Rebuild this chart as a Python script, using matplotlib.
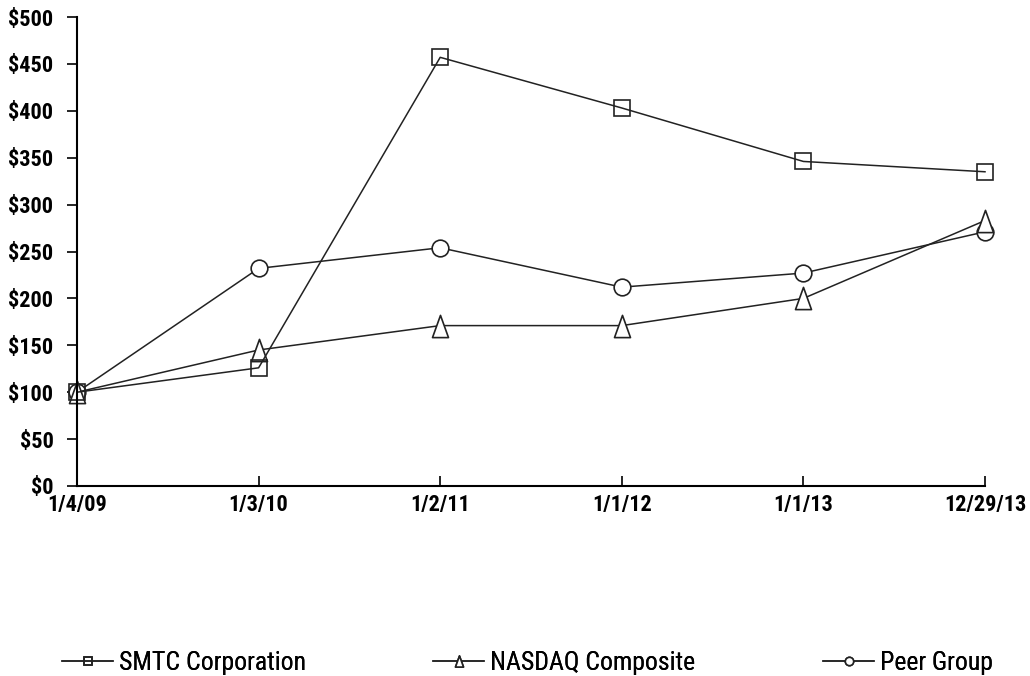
import matplotlib
matplotlib.use("Agg")
import matplotlib.pyplot as plt
from matplotlib import font_manager
from matplotlib.path import Path

dates = ["1/4/09", "1/3/10", "1/2/11", "1/1/12", "1/1/13", "12/29/13"]
smtc = [100, 126, 457, 403, 346, 335]
nasdaq = [100, 145, 171, 171, 200, 283]
peer = [100, 232, 254, 212, 227, 271]
yticks = list(range(0, 501, 50))
series_names = ["SMTC Corporation", "NASDAQ Composite", "Peer Group"]

names = {f.name for f in font_manager.fontManager.ttflist}
fam = "Liberation Sans"
for cand in ["Liberation Sans Narrow", "Roboto Condensed", "PT Sans Narrow",
             "Asap Condensed", "Barlow Semi Condensed", "Archivo Narrow"]:
    if cand in names:
        fam = cand
        break
plt.rcParams["font.family"] = [fam, "DejaVu Sans"]

fig = plt.figure(figsize=(10.3, 6.76), dpi=100)
ax = fig.add_axes([77/1030, 1-486/676, (985-77)/1030, (486-17)/676])

tri = Path([(-0.36, -0.5), (0.36, -0.5), (0.0, 0.5), (-0.36, -0.5)],
           [Path.MOVETO, Path.LINETO, Path.LINETO, Path.CLOSEPOLY])

x = list(range(len(dates)))
kw = dict(color="#222222", lw=1.1, mfc="white", mec="#222222", mew=1.2, clip_on=False)
l3, = ax.plot(x, peer, marker="o", ms=12, **kw)
l2, = ax.plot(x, nasdaq, marker=tri, ms=16, **kw)
l1, = ax.plot(x, smtc, marker="s", ms=12, **{**kw, "mfc": "none"})

ax.set_xlim(0, len(dates)-1)
ax.set_ylim(0, 500)
ax.set_yticks(yticks)
ax.set_yticklabels([f"${v}" for v in yticks], fontsize=16, fontweight="bold")
ax.set_xticks(x)
ax.set_xticklabels(dates, fontsize=16, fontweight="bold")
ax.tick_params(axis="y", direction="out", length=7, width=1.2, pad=10)
ax.tick_params(axis="x", direction="in", length=7, width=1.2, pad=6)
for s in ["top", "right"]:
    ax.spines[s].set_visible(False)
for s in ["left", "bottom"]:
    ax.spines[s].set_linewidth(1.5)

leg_x = [62, 433, 823]
for h, name, lx in zip([l1, l2, l3], series_names, leg_x):
    lg = fig.legend([h], [name], loc="center left",
                    bbox_to_anchor=(lx/1030, 1-663/676), frameon=False,
                    fontsize=18.5, markerscale=0.5, handlelength=2.0,
                    handletextpad=0.2, borderpad=0, borderaxespad=0)
    fig.add_artist(lg)

fig.savefig("out.png", dpi=100)
